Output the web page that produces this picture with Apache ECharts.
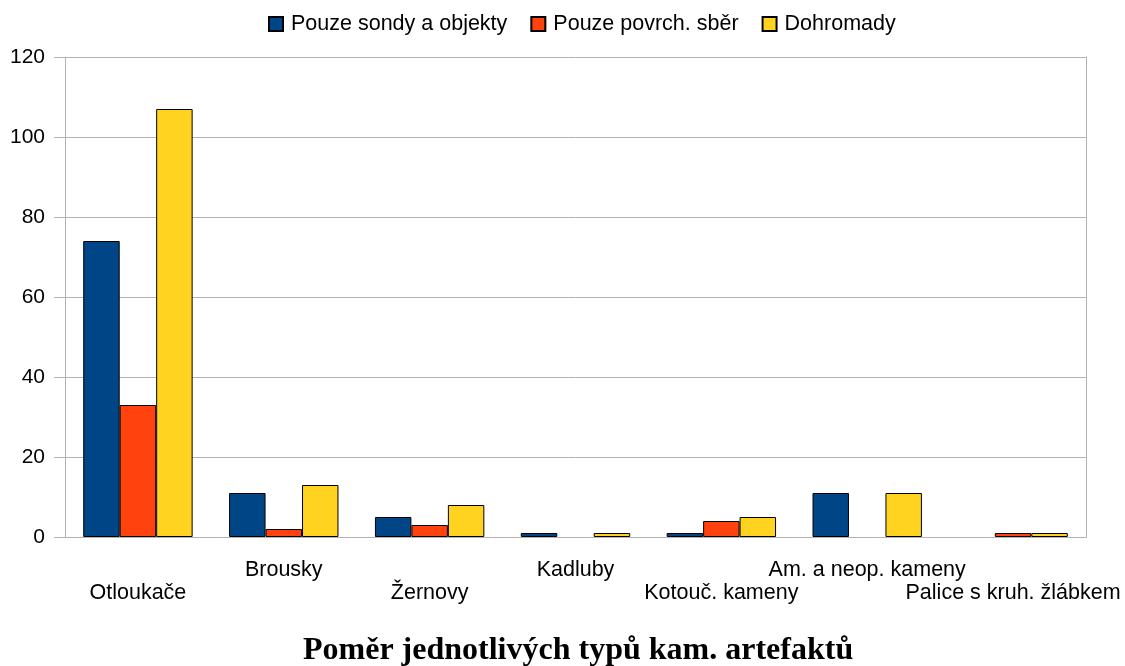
<!DOCTYPE html>
<html>
<head>
<meta charset="utf-8">
<script src="https://cdn.jsdelivr.net/npm/echarts@6/dist/echarts.min.js"></script>
<style>
  html, body { margin: 0; padding: 0; background: #fff; }
  #chart { width: 1125px; height: 666px; }
</style>
</head>
<body>
<div id="chart"></div>
<script>
const categories = ['Otloukače', 'Brousky', 'Žernovy', 'Kadluby', 'Kotouč. kameny', 'Am. a neop. kameny', 'Palice s kruh. žlábkem']
const sondy = [74, 11, 5, 1, 1, 11, 0]
const sber = [33, 2, 3, 0, 4, 0, 1]
const dohromady = [107, 13, 8, 1, 5, 11, 1]
const seriesNames = ['Pouze sondy a objekty', 'Pouze povrch. sběr', 'Dohromady']
const colors = ['#004586', '#ff420e', '#ffd320']

const gridColor = '#b3b3b3'
const font = 'Liberation Sans, Arial, sans-serif'

// nulové hodnoty se nekreslí
function bars(values) {
  return values.map((v) => (v === 0 ? null : v))
}

const chart = echarts.init(document.getElementById('chart'))

chart.setOption({
  animation: false,
  color: colors,
  title: {
    text: 'Poměr jednotlivých typů kam. artefaktů',
    left: 298,
    top: 630,
    textStyle: {
      fontFamily: 'Liberation Serif, Times New Roman, serif',
      fontWeight: 'bold',
      fontSize: 32,
      color: '#000'
    }
  },
  legend: {
    top: 8,
    left: 263,
    icon: 'rect',
    itemWidth: 14,
    itemHeight: 14,
    itemGap: 23,
    textStyle: { fontFamily: font, fontSize: 21.5, color: '#000', padding: [0, 0, 0, 3] },
    data: seriesNames
  },
  grid: { left: 65, right: 39, top: 57, bottom: 129 },
  xAxis: {
    type: 'category',
    data: categories,
    axisLine: { lineStyle: { color: gridColor } },
    axisTick: { length: 11, lineStyle: { color: gridColor } },
    axisLabel: {
      interval: 0,
      margin: 22,
      color: '#000',
      fontFamily: font,
      fontSize: 21.5,
      lineHeight: 23,
      formatter(value, index) {
        return index % 2 === 0 ? '\n' + value : value
      }
    }
  },
  yAxis: [
    {
      type: 'value',
      min: 0,
      max: 120,
      interval: 20,
      axisLine: { show: true, lineStyle: { color: gridColor } },
      axisTick: { show: true, length: 11, lineStyle: { color: gridColor } },
      axisLabel: { margin: 20, color: '#000', fontFamily: font, fontSize: 21 },
      splitLine: { lineStyle: { color: gridColor } }
    },
    {
      type: 'value',
      position: 'right',
      min: 0,
      max: 120,
      interval: 20,
      axisLine: { show: true, lineStyle: { color: gridColor } },
      axisTick: { show: false },
      axisLabel: { show: false },
      splitLine: { show: false }
    }
  ],
  series: [
    {
      name: seriesNames[0],
      type: 'bar',
      barWidth: '25%',
      barGap: '0%',
      data: bars(sondy),
      itemStyle: { borderColor: '#000', borderWidth: 1 }
    },
    {
      name: seriesNames[1],
      type: 'bar',
      barWidth: '25%',
      barGap: '0%',
      data: bars(sber),
      itemStyle: { borderColor: '#000', borderWidth: 1 }
    },
    {
      name: seriesNames[2],
      type: 'bar',
      barWidth: '25%',
      barGap: '0%',
      data: bars(dohromady),
      itemStyle: { borderColor: '#000', borderWidth: 1 }
    }
  ]
})
</script>
</body>
</html>
